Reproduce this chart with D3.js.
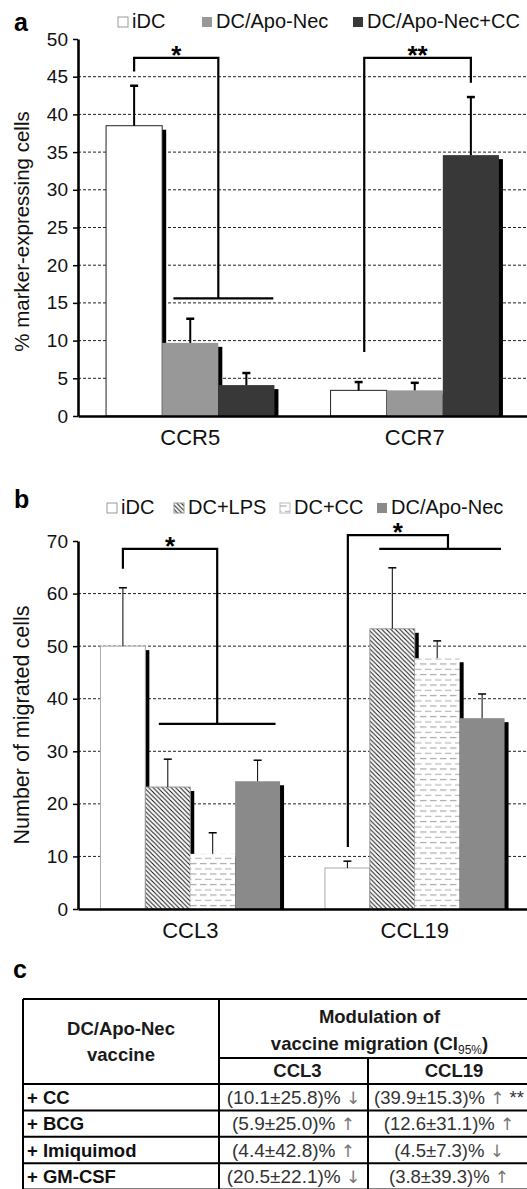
<!DOCTYPE html>
<html>
<head>
<meta charset="utf-8">
<script src="https://cdn.jsdelivr.net/npm/d3@7"></script>
<style>
  body { margin: 0; background: #fff; }
  svg text { font-family: "Liberation Sans", Arial, sans-serif; }
</style>
</head>
<body>
<svg id="fig" width="527" height="1189"></svg>
<script>
// ---- panel a data ----
const MARKERS_A = ["CCR5", "CCR7"];
const GROUPS_A = ["iDC", "DC/Apo-Nec", "DC/Apo-Nec+CC"];
const MEAN_A = [[38.5, 9.7, 4.1], [3.4, 3.4, 34.6]];
const ERR_A = [[5.3, 3.2, 1.6], [1.1, 1.0, 7.7]];
const TICKS_A = [0, 5, 10, 15, 20, 25, 30, 35, 40, 45, 50];
const GRID_A = [5, 10, 15, 20, 25, 30, 35, 40, 45];
// brackets: s = position in bar widths inside the group, y in axis units
const SIG_A = [
  {label: "*", cat: "CCR5", s1: 0.5, y1: 45.7, top: 47.5, s2: 2.0, y2: 15.6, base: [1.2, 2.98]},
  {label: "**", cat: "CCR7", s1: 0.6, y1: 8.5, top: 47.5, s2: 2.5, y2: 44.2, base: null},
];

// ---- panel b data ----
const CHEMO_B = ["CCL3", "CCL19"];
const GROUPS_B = ["iDC", "DC+LPS", "DC+CC", "DC/Apo-Nec"];
const MEAN_B = [[50.0, 23.2, 10.5, 24.3], [7.8, 53.3, 47.7, 36.3]];
const ERR_B = [[11.1, 5.3, 4.0, 4.0], [1.3, 11.6, 3.3, 4.6]];
const TICKS_B = [0, 10, 20, 30, 40, 50, 60, 70];
const GRID_B = [10, 20, 30, 40, 50, 60];
const SIG_B = [
  {label: "*", cat: "CCL3", s1: 0.5, y1: 64.7, top: 68.5, s2: 2.6, y2: 35.2, base: [1.3, 3.9]},
  {label: "*", cat: "CCL19", s1: 0.51, y1: 11.8, top: 71.1, s2: 2.74, y2: 68.5, base: [1.21, 3.92]},
];

// ---- panel c table ----
const TABLE_ROWS = ["+ CC", "+ BCG", "+ Imiquimod", "+ GM-CSF"];
const CCL3_CELLS = ["(10.1±25.8)% ↓", "(5.9±25.0)% ↑", "(4.4±42.8)% ↑", "(20.5±22.1)% ↓"];
const CCL19_CELLS = ["(39.9±15.3)% ↑ **", "(12.6±31.1)% ↑", "(4.5±7.3)% ↓", "(3.8±39.3)% ↑"];

const svg = d3.select("#fig");
const FONT = '"Liberation Sans", Arial, sans-serif';

// patterns for panel b
const defs = svg.append("defs");
const hatch = defs.append("pattern").attr("id", "hatch")
  .attr("patternUnits", "userSpaceOnUse").attr("width", 4.5).attr("height", 4.5);
hatch.append("rect").attr("width", 4.5).attr("height", 4.5).attr("fill", "#fff");
hatch.append("path").attr("d", "M-1,-1 L5.5,5.5 M-1,3.5 L1,5.5 M3.5,-1 L5.5,1")
  .attr("stroke", "#111").attr("stroke-width", 1);
const dash = defs.append("pattern").attr("id", "dashes")
  .attr("patternUnits", "userSpaceOnUse").attr("width", 10).attr("height", 10.5);
dash.append("rect").attr("width", 10).attr("height", 10.5).attr("fill", "#fff");
dash.append("path").attr("d", "M0,2.5 H6.5 M5,7.8 H10 M0,7.8 H1.5")
  .attr("stroke", "#a8a8a8").attr("stroke-width", 1);

const STYLE_A = [
  {fill: "#fff", stroke: "#222", key: "#999"},
  {fill: "#989898", stroke: "none", key: "none"},
  {fill: "#383838", stroke: "none", key: "none"},
];
const STYLE_B = [
  {fill: "#fff", stroke: "#aaa", key: "#999"},
  {fill: "url(#hatch)", stroke: "#999", key: "#999"},
  {fill: "url(#dashes)", stroke: "none", key: "#bbb"},
  {fill: "#8a8a8a", stroke: "none", key: "none"},
];

function drawPanel(p) {
  const g = svg.append("g");

  // scales
  const x = d3.scaleBand().domain(p.cats).range([p.left, p.right]);
  const xs = d3.scaleBand().domain(p.series).range([0, x.bandwidth()]).paddingOuter(0.5);
  const y = d3.scaleLinear().domain([0, p.max]).range([p.bottom, p.top]);
  const bw = xs.bandwidth();
  const xAt = (cat, s) => x(cat) + xs(p.series[0]) + s * xs.step();

  // dashed gridlines
  g.selectAll(".grid").data(p.grid).enter().append("line")
    .attr("x1", p.left).attr("x2", p.right)
    .attr("y1", d => y(d)).attr("y2", d => y(d))
    .attr("stroke", "#222").attr("stroke-width", 1).attr("stroke-dasharray", "3,2");

  // flatten into one row per bar
  const bars = [];
  p.cats.forEach((c, i) => p.series.forEach((s, j) => {
    bars.push({cat: c, ser: s, j: j, v: p.mean[i][j], e: p.err[i][j]});
  }));

  // drop shadows first, bars on top hide most of them
  g.selectAll(".shadow").data(bars).enter().append("rect")
    .attr("x", d => x(d.cat) + xs(d.ser) + 4)
    .attr("y", d => y(d.v) + 4)
    .attr("width", bw)
    .attr("height", d => Math.max(0, p.bottom - y(d.v) - 4))
    .attr("fill", "#000");

  g.selectAll(".bar").data(bars).enter().append("rect")
    .attr("x", d => x(d.cat) + xs(d.ser))
    .attr("y", d => y(d.v))
    .attr("width", bw)
    .attr("height", d => p.bottom - y(d.v))
    .attr("fill", d => p.style[d.j].fill)
    .attr("stroke", d => p.style[d.j].stroke)
    .attr("stroke-width", 1);

  // upper error bars
  const eb = g.selectAll(".err").data(bars).enter().append("g");
  eb.append("line")
    .attr("x1", d => x(d.cat) + xs(d.ser) + bw / 2)
    .attr("x2", d => x(d.cat) + xs(d.ser) + bw / 2)
    .attr("y1", d => y(d.v)).attr("y2", d => y(d.v + d.e))
    .attr("stroke", "#000").attr("stroke-width", p.errW);
  eb.append("line")
    .attr("x1", d => x(d.cat) + xs(d.ser) + bw / 2 - 4)
    .attr("x2", d => x(d.cat) + xs(d.ser) + bw / 2 + 4)
    .attr("y1", d => y(d.v + d.e)).attr("y2", d => y(d.v + d.e))
    .attr("stroke", "#000").attr("stroke-width", p.errW + 0.5);

  // significance brackets
  p.sig.forEach(b => {
    const xa = xAt(b.cat, b.s1), xb = xAt(b.cat, b.s2);
    g.append("path")
      .attr("d", `M${xa},${y(b.y1)} V${y(b.top)} H${xb} V${y(b.y2)}`)
      .attr("fill", "none").attr("stroke", "#000").attr("stroke-width", 2.2);
    if (b.base) {
      g.append("line")
        .attr("x1", xAt(b.cat, b.base[0])).attr("x2", xAt(b.cat, b.base[1]))
        .attr("y1", y(b.y2)).attr("y2", y(b.y2))
        .attr("stroke", "#000").attr("stroke-width", 2.2);
    }
    g.append("text")
      .attr("x", (xa + xb) / 2).attr("y", y(b.top) + 6)
      .attr("text-anchor", "middle")
      .attr("font-size", 26).attr("font-weight", "bold")
      .text(b.label);
  });

  // y axis
  const ya = g.append("g").attr("transform", "translate(" + p.left + ",0)")
    .call(d3.axisLeft(y).tickValues(p.ticks).tickSize(5).tickSizeOuter(0).tickPadding(5));
  ya.attr("font-family", FONT).attr("font-size", 19);
  ya.select(".domain").attr("stroke-width", 2.6);
  ya.selectAll(".tick line").attr("stroke-width", 1.5);
  ya.selectAll(".tick text").attr("fill", "#111");

  // x axis
  const xa = g.append("g").attr("transform", "translate(0," + p.bottom + ")")
    .call(d3.axisBottom(x).tickSize(0).tickSizeOuter(0).tickPadding(13));
  xa.attr("font-family", FONT).attr("font-size", 22);
  xa.select(".domain").attr("stroke-width", 2.6);
  xa.selectAll(".tick text").attr("fill", "#111");

  // y title
  g.append("text")
    .attr("transform", "translate(29," + ((p.bottom + p.top) / 2 + p.titleShift) + ") rotate(-90)")
    .attr("text-anchor", "middle").attr("font-size", p.titleSize).attr("fill", "#111")
    .text(p.title);

  // panel letter
  g.append("text").attr("x", 14).attr("y", p.letterY)
    .attr("font-size", 25).attr("font-weight", "bold").text(p.letter);

  // legend
  const lg = g.selectAll(".leg").data(p.series).enter().append("g")
    .attr("transform", (d, i) => "translate(" + p.legendX[i] + "," + p.legendY + ")");
  lg.append("rect").attr("x", 0).attr("y", -11).attr("width", 10).attr("height", 10)
    .attr("fill", (d, i) => p.style[i].fill)
    .attr("stroke", (d, i) => p.style[i].key)
    .attr("stroke-width", 1);
  lg.append("text").attr("x", 14).attr("y", 0)
    .attr("font-size", 20).attr("fill", "#111").text(d => d);
}

drawPanel({
  cats: MARKERS_A, series: GROUPS_A, mean: MEAN_A, err: ERR_A,
  ticks: TICKS_A, grid: GRID_A, sig: SIG_A, style: STYLE_A,
  max: 50, left: 78, right: 527, bottom: 416, top: 39,
  errW: 2, title: "% marker-expressing cells", titleSize: 20.5, titleShift: 4,
  letter: "a", letterY: 31, legendY: 28, legendX: [118, 202, 353],
});

drawPanel({
  cats: CHEMO_B, series: GROUPS_B, mean: MEAN_B, err: ERR_B,
  ticks: TICKS_B, grid: GRID_B, sig: SIG_B, style: STYLE_B,
  max: 70, left: 78, right: 527, bottom: 909, top: 541,
  errW: 1, title: "Number of migrated cells", titleSize: 21.5, titleShift: 0,
  letter: "b", letterY: 508, legendY: 514, legendX: [107, 174, 280, 377],
});

// ---- panel c: table ----
// writes a cell, arrows go in a font that has them as plain glyphs
function cellText(sel) {
  sel.each(function(d) {
    const t = d3.select(this);
    d.split(/([↑↓])/).filter(s => s.length).forEach(part => {
      const sp = t.append("tspan").text(part);
      if (part === "↑" || part === "↓") {
        sp.attr("font-family", '"DejaVu Sans", sans-serif').attr("fill", "#777").attr("font-size", 17);
      }
    });
  });
}

function drawTable() {
  const g = svg.append("g");
  const colX = [23, 219, 368, 536];
  const topY = 999, subY = 1058, headY = 1084, rowH = 26.4;
  const rowY = d3.range(TABLE_ROWS.length + 1).map(i => headY + i * rowH);
  const line = (x1, y1, x2, y2) => g.append("line")
    .attr("x1", x1).attr("y1", y1).attr("x2", x2).attr("y2", y2)
    .attr("stroke", "#000").attr("stroke-width", 2);

  line(colX[0], topY, colX[3], topY);
  line(colX[1], subY, colX[3], subY);
  rowY.forEach(yy => line(colX[0], yy, colX[3], yy));
  line(colX[0], topY, colX[0], rowY[rowY.length - 1]);
  line(colX[1], topY, colX[1], rowY[rowY.length - 1]);
  line(colX[2], subY, colX[2], rowY[rowY.length - 1]);
  line(colX[3], topY, colX[3], rowY[rowY.length - 1]);

  const bold = (xx, yy, txt) => g.append("text").attr("x", xx).attr("y", yy)
    .attr("text-anchor", "middle").attr("font-size", 18.5).attr("font-weight", "bold")
    .attr("fill", "#1a1a1a").text(txt);

  const cx1 = (colX[0] + colX[1]) / 2;
  const cx23 = (colX[1] + colX[3]) / 2 + 2;
  bold(cx1, 1035, "DC/Apo-Nec");
  bold(cx1, 1061, "vaccine");
  bold(cx23, 1023, "Modulation of");
  const t2 = bold(cx23, 1050, null);
  t2.append("tspan").text("vaccine migration (CI");
  t2.append("tspan").attr("font-size", 12).attr("font-weight", "normal").attr("dy", 4).text("95%");
  t2.append("tspan").attr("dy", -4).text(")");

  bold((colX[1] + colX[2]) / 2 + 4, 1077, "CCL3");
  bold((colX[2] + colX[3]) / 2 + 2, 1077, "CCL19");

  g.selectAll(".rowlab").data(TABLE_ROWS).enter().append("text")
    .attr("x", 27).attr("y", (d, i) => rowY[i] + 20)
    .attr("font-size", 18.5).attr("font-weight", "bold").attr("fill", "#111").text(d => d);
  g.selectAll(".c3").data(CCL3_CELLS).enter().append("text")
    .attr("x", (colX[1] + colX[2]) / 2).attr("y", (d, i) => rowY[i] + 20)
    .attr("text-anchor", "middle").attr("font-size", 19).attr("fill", "#333")
    .call(cellText);
  // CCL19 column is cut by the page edge, keep its text inside
  g.selectAll(".c19").data(CCL19_CELLS).enter().append("text")
    .attr("x", (colX[2] + colX[3]) / 2 - 3).attr("y", (d, i) => rowY[i] + 20)
    .attr("text-anchor", "middle").attr("font-size", 18.5).attr("fill", "#333")
    .call(cellText);

  g.append("text").attr("x", 13).attr("y", 978)
    .attr("font-size", 25).attr("font-weight", "bold").text("c");
}
drawTable();
</script>
</body>
</html>
